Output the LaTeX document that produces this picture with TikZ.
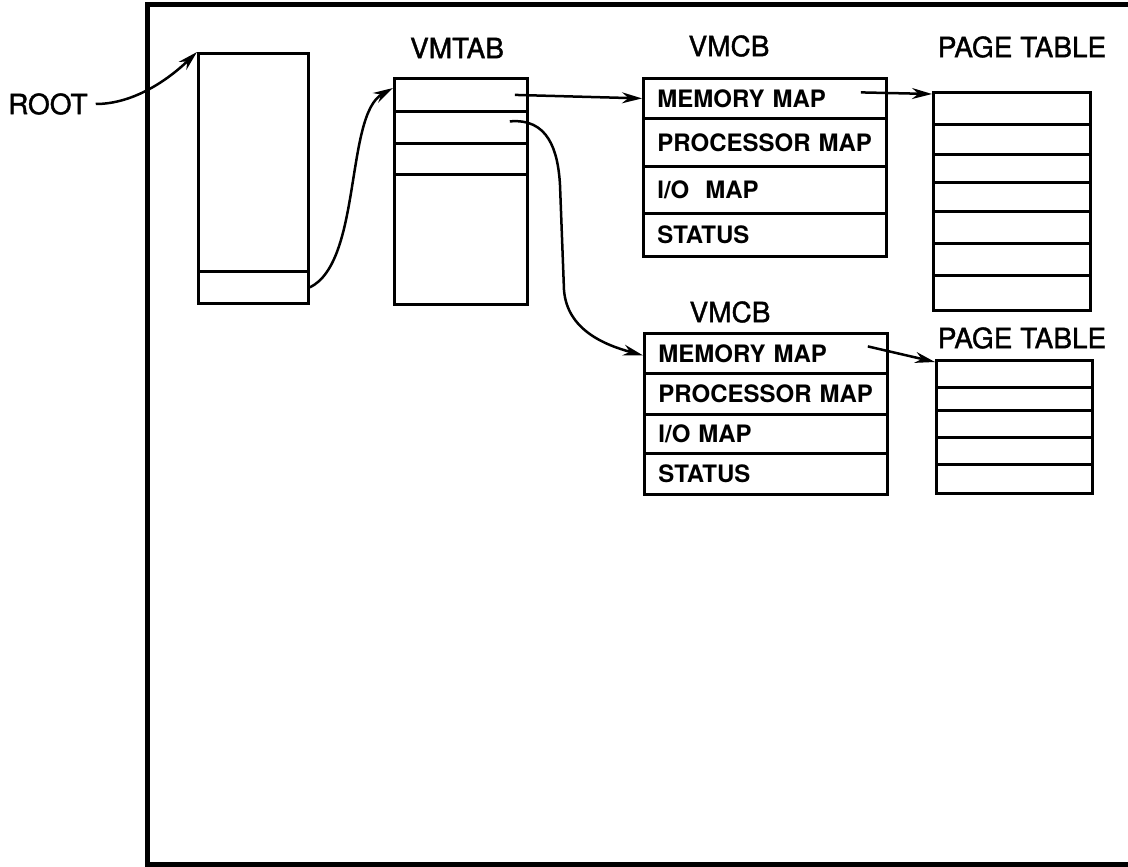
\documentclass[tikz,border=0pt]{standalone}
\usepackage{fontspec}
\setmainfont{TeX Gyre Heros}
\newfontfamily\lblfont[FakeBold=1.3]{TeX Gyre Heros}
\usetikzlibrary{arrows.meta}
\tikzset{
  cell/.style={draw, line width=2.8pt, inner sep=0pt, anchor=north west},
  celltext/.style={cell, inner xsep=14pt, align=left, font=\fontsize{24}{26}\selectfont\bfseries},
  lbl/.style={inner sep=0pt, font=\lblfont\fontsize{28}{30}\selectfont},
  arr/.style={line width=2.5pt, -{Stealth[length=20pt, width=11pt]}},
  frame/.style={line width=5pt}
}
\begin{document}
\begin{tikzpicture}[x=1pt, y=-1pt]
\useasboundingbox (0,0) rectangle (1128,867);
% outer frame
\draw[frame] (1140,5) -- (147,5) -- (147,864) -- (1140,864);
% labels
\node[lbl, anchor=west] (root) at (8,104) {ROOT};
\node[lbl] (lvmtab) at (457,48) {VMTAB};
\node[lbl] (lvmcb1) at (729,46) {VMCB};
\node[lbl] (lpt1) at (1022,47) {PAGE TABLE};
\node[lbl] (lvmcb2) at (730,312) {VMCB};
\node[lbl] (lpt2) at (1022,338) {PAGE TABLE};
% root box
\node[cell, minimum width=110pt, minimum height=218pt] (b1a) at (197,52) {};
\node[cell, minimum width=110pt, minimum height=32pt] (b1b) at (197,270) {};
% VMTAB
\node[cell, minimum width=133pt, minimum height=33pt] (vt1) at (393,77) {};
\node[cell, minimum width=133pt, minimum height=32pt] (vt2) at (393,110) {};
\node[cell, minimum width=133pt, minimum height=31pt] (vt3) at (393,142) {};
\node[cell, minimum width=133pt, minimum height=130pt] (vt4) at (393,173) {};
% VMCB 1
\node[celltext, text width=215pt, minimum height=40pt] (m1a) at (642,77) {MEMORY MAP};
\node[celltext, text width=215pt, minimum height=48pt] (m1b) at (642,117) {PROCESSOR MAP};
\node[celltext, text width=215pt, minimum height=47pt] (m1c) at (642,165) {I/O\ \ MAP};
\node[celltext, text width=215pt, minimum height=43pt] (m1d) at (642,212) {STATUS};
% VMCB 2
\node[celltext, text width=215pt, minimum height=40pt] (m2a) at (643,332) {MEMORY MAP};
\node[celltext, text width=215pt, minimum height=41pt] (m2b) at (643,372) {PROCESSOR MAP};
\node[celltext, text width=215pt, minimum height=39pt] (m2c) at (643,413) {I/O MAP};
\node[celltext, text width=215pt, minimum height=41pt] (m2d) at (643,452) {STATUS};
% page table 1
\node[cell, minimum width=157pt, minimum height=32pt] (pt1a) at (932,91) {};
\node[cell, minimum width=157pt, minimum height=30pt] (pt1b) at (932,123) {};
\node[cell, minimum width=157pt, minimum height=28pt] (pt1c) at (932,153) {};
\node[cell, minimum width=157pt, minimum height=29pt] (pt1d) at (932,181) {};
\node[cell, minimum width=157pt, minimum height=32pt] (pt1e) at (932,210) {};
\node[cell, minimum width=157pt, minimum height=32pt] (pt1f) at (932,242) {};
\node[cell, minimum width=157pt, minimum height=35pt] (pt1g) at (932,274) {};
% page table 2
\node[cell, minimum width=156pt, minimum height=27pt] (pt2a) at (935,359) {};
\node[cell, minimum width=156pt, minimum height=23pt] (pt2b) at (935,386) {};
\node[cell, minimum width=156pt, minimum height=27pt] (pt2c) at (935,409) {};
\node[cell, minimum width=156pt, minimum height=27pt] (pt2d) at (935,436) {};
\node[cell, minimum width=156pt, minimum height=29pt] (pt2e) at (935,463) {};
% connectors
\draw[arr] ([xshift=8pt]root.east) .. controls (135,104) and (170,78) .. (b1a.north west);
\draw[arr] (b1b.east) .. controls (362,262) and (345,115) .. ([yshift=-11pt]vt1.north west);
\draw[arr] ([xshift=-14pt]vt1.east) -- (m1a.west);
\draw[arr] ([xshift=-19pt,yshift=6pt]vt2.east) .. controls (548,118) and (558,150) .. (560,185)
  -- (564,290) .. controls (567,330) and (605,345) .. ([yshift=-2pt]m2a.west);
\draw[arr] ([xshift=-27pt,yshift=6pt]m1a.east) -- ([yshift=-3pt]pt1a.north west);
\draw[arr] ([xshift=-21pt,yshift=7pt]m2a.east) -- ([yshift=-3pt]pt2a.north west);
\end{tikzpicture}
\end{document}
